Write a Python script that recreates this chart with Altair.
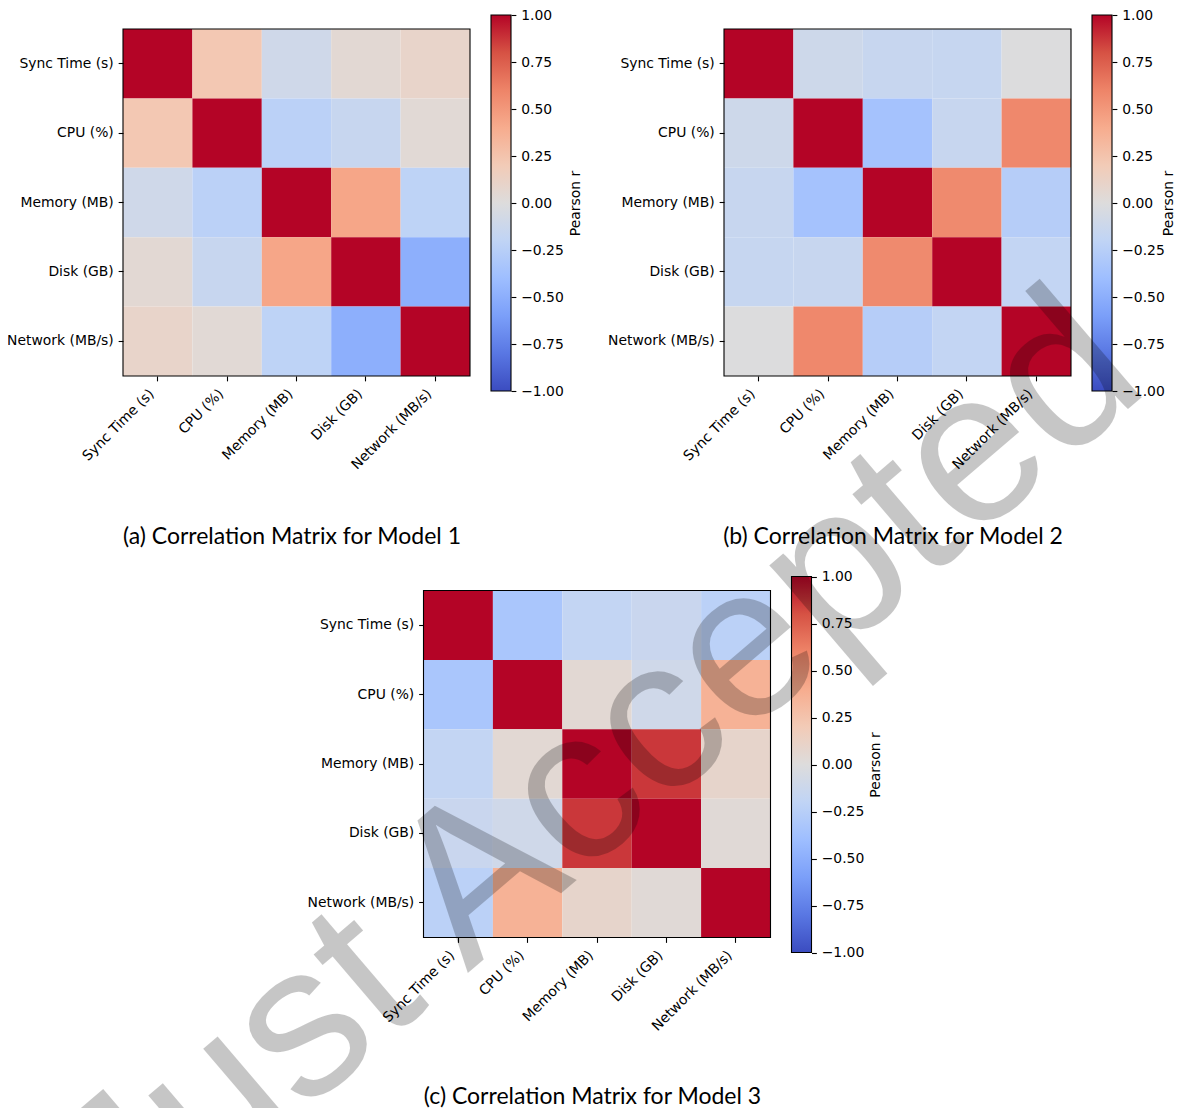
import altair as alt
import pandas as pd

variables = ["Sync Time (s)", "CPU (%)", "Memory (MB)", "Disk (GB)", "Network (MB/s)"]

model1 = [
    [1.00, 0.22, -0.10, 0.05, 0.10],
    [0.22, 1.00, -0.23, -0.15, 0.04],
    [-0.10, -0.23, 1.00, 0.43, -0.21],
    [0.05, -0.15, 0.43, 1.00, -0.50],
    [0.10, 0.04, -0.21, -0.50, 1.00],
]
model2 = [
    [1.00, -0.11, -0.15, -0.16, -0.01],
    [-0.11, 1.00, -0.36, -0.15, 0.58],
    [-0.15, -0.36, 1.00, 0.57, -0.26],
    [-0.16, -0.15, 0.57, 1.00, -0.18],
    [-0.01, 0.58, -0.26, -0.18, 1.00],
]
model3 = [
    [1.00, -0.33, -0.18, -0.14, -0.23],
    [-0.33, 1.00, 0.05, -0.10, 0.36],
    [-0.18, 0.05, 1.00, 0.87, 0.09],
    [-0.14, -0.10, 0.87, 1.00, 0.03],
    [-0.23, 0.36, 0.09, 0.03, 1.00],
]
captions = [
    "(a) Correlation Matrix for Model 1",
    "(b) Correlation Matrix for Model 2",
    "(c) Correlation Matrix for Model 3",
]
cbar_ticks = [-1.0, -0.75, -0.5, -0.25, 0.0, 0.25, 0.5, 0.75, 1.0]
cbar_title = "Pearson r"
watermark = "Just Accepted"

# matplotlib "coolwarm" sampled at 11 points
cmap_stops = [-1.0, -0.8, -0.6, -0.4, -0.2, 0.0, 0.2, 0.4, 0.6, 0.8, 1.0]
cmap_colors = ["#3b4cc0", "#5977e3", "#7b9ff9", "#9ebeff", "#c0d4f5", "#dddcdc",
               "#f2cbb7", "#f7ac8e", "#ee8468", "#d65244", "#b40426"]

# ---- layout (pixels inside one 1169 x 1100 canvas) ----
PW, PH = 1169, 1100
W = 347
origins = [(115, 21), (716, 21), (415.5, 582.5)]
cap_pos = [(284, 529), (885, 529), (584.5, 1089)]
title_pad = [5, -3, 5]
wm_pos = (633, 817)

FONT = "DejaVu Sans"
FS = 13.9
TICK = 4.86
LW = 1.1

grad = alt.Gradient(
    gradient="linear",
    stops=[alt.GradientStop(color=c, offset=(v + 1) / 2)
           for v, c in zip(cmap_stops, cmap_colors)],
    x1=0, x2=0, y1=1, y2=0,
)


def panel_layers(matrix, caption, origin, cpos, tpad):
    ox, oy = origin
    rows = []
    for i, rname in enumerate(variables):
        for j, cname in enumerate(variables):
            rows.append({"row": rname, "col": cname, "r": matrix[i][j]})
    df = pd.DataFrame(rows)

    heat = alt.Chart(df).mark_rect().encode(
        x=alt.X("col:N", sort=variables,
                scale=alt.Scale(paddingInner=0, paddingOuter=0, range=[ox, ox + W]),
                axis=alt.Axis(title=None, orient="bottom", offset=(oy + W) - PH,
                              labelAngle=-45, labelAlign="right", labelBaseline="middle",
                              labelOffset=-5.7, labelPadding=10.5,
                              labelFont=FONT, labelFontSize=FS, labelColor="black",
                              tickSize=TICK, tickWidth=LW, tickColor="black",
                              domain=False, grid=False, labelLimit=300)),
        y=alt.Y("row:N", sort=variables,
                scale=alt.Scale(paddingInner=0, paddingOuter=0, range=[oy, oy + W]),
                axis=alt.Axis(title=None, orient="left", offset=-ox,
                              labelPadding=TICK,
                              labelFont=FONT, labelFontSize=FS, labelColor="black",
                              tickSize=TICK, tickWidth=LW, tickColor="black",
                              domain=False, grid=False, labelLimit=300)),
        color=alt.Color("r:Q", legend=None,
                        scale=alt.Scale(domain=cmap_stops, range=cmap_colors,
                                        interpolate="rgb")),
    )

    frame = alt.Chart(pd.DataFrame({"f": [0]})).mark_rect(
        filled=False, stroke="black", strokeWidth=LW
    ).encode(x=alt.value(ox), x2=alt.value(ox + W),
             y=alt.value(oy), y2=alt.value(oy + W))

    cb_df = pd.DataFrame({"lo": [-1.0], "hi": [1.0]})
    cbar = alt.Chart(cb_df).mark_rect(fill=grad, stroke="black", strokeWidth=LW).encode(
        x=alt.value(ox + 368), x2=alt.value(ox + 388),
        y=alt.Y("lo:Q",
                scale=alt.Scale(domain=[-1, 1], range=[oy + 362, oy - 14]),
                axis=alt.Axis(orient="right", offset=(ox + 388) - PW, values=cbar_ticks,
                              labelExpr="replace(format(datum.value, '.2f'), '-', '\u2212')",
                              title=cbar_title, titleAngle=270, titleBaseline="top",
                              titleFont=FONT, titleFontSize=FS, titleFontWeight="normal",
                              titleColor="black", titlePadding=tpad,
                              labelFont=FONT, labelFontSize=FS, labelColor="black",
                              labelPadding=TICK, tickSize=TICK, tickWidth=LW,
                              tickColor="black", domain=False, grid=False)),
        y2="hi:Q",
    )

    cap = alt.Chart(pd.DataFrame({"t": [caption]})).mark_text(
        font="Lato", fontSize=23, color="black", align="center", baseline="middle"
    ).encode(x=alt.value(cpos[0]), y=alt.value(cpos[1]), text="t:N")

    return [heat, frame, cbar, cap]


layers = []
for m, cap, org, cp, tp in zip([model1, model2, model3], captions, origins, cap_pos, title_pad):
    layers += panel_layers(m, cap, org, cp, tp)

# translucent dark overlay == multiply with light grey
wm = alt.Chart(pd.DataFrame({"t": [watermark]})).mark_text(
    font="Liberation Sans", fontSize=216, angle=319.5, color="black", opacity=0.22,
    align="center", baseline="alphabetic", clip=True,
).encode(x=alt.value(wm_pos[0]), y=alt.value(wm_pos[1]), text="t:N")
layers.append(wm)

chart = alt.layer(*layers).resolve_scale(
    x="independent", y="independent"
).properties(
    width=PW, height=PH,
    autosize=alt.AutoSizeParams(type="none"),
    padding=0,
).configure(background="white").configure_view(stroke=None)

chart.save("out.html", embed_options={"renderer": "svg", "actions": False})
